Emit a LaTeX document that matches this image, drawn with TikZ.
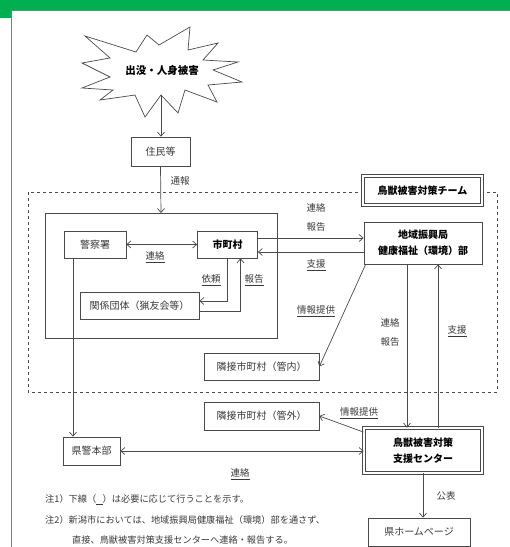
\documentclass[tikz,border=0pt]{standalone}
\usepackage{fontspec}
\setmainfont{Noto Sans CJK JP}
\usetikzlibrary{arrows.meta,calc}
\definecolor{band}{HTML}{00B050}
\definecolor{ln}{HTML}{4A4A4A}
\definecolor{tx}{HTML}{3A3A3A}
\tikzset{
  box/.style={draw=ln, line width=0.7pt, fill=white, text=tx, font=\fontsize{10}{12}\selectfont, inner sep=1pt, align=center},
  bbox/.style={box, text=black, font=\fontsize{10}{16}\selectfont\bfseries},
  dbox/.style={bbox, double=white, double distance=1.6pt, line width=0.8pt},
  lab/.style={text=tx, font=\fontsize{9.5}{11}\selectfont, inner sep=1pt},
  conn/.style={draw=ln, line width=0.7pt},
  arr/.style={conn, -{Straight Barb[length=4pt,width=7pt]}},
  darr/.style={conn, {Straight Barb[length=4pt,width=7pt]}-{Straight Barb[length=4pt,width=7pt]}},
  note/.style={text=tx, font=\fontsize{9.2}{11}\selectfont, inner sep=0pt, anchor=west}
}
\begin{document}
\begin{tikzpicture}[x=1pt,y=-1pt]
\useasboundingbox (0,0) rectangle (510,547);
% header band and frame
\fill[band] (0,0) rectangle (510,10);
\fill[band] (0,0) rectangle (11,18);
\draw[gray, line width=1pt] (510,10.5) -- (11,10.5) -- (11,547);
% star
\draw[ln, line width=0.7pt, fill=white] (85,36) -- (136,52) -- (147,35) -- (159,45) -- (190,27) -- (188,50) -- (218,43) -- (203,60) -- (238,62) -- (213,70) -- (242,82) -- (208,85) -- (217,102) -- (185,90) -- (178,113) -- (161,95) -- (145,117) -- (135,95) -- (100,100) -- (113,90) -- (82,88) -- (110,77) -- (82,63) -- (110,58) -- cycle;
\node[font=\fontsize{10.5}{12}\selectfont\bfseries, inner sep=0pt] (star) at (162,70) {出没・人身被害};
\coordinate (starbot) at (161,95);
% dashed team area
\draw[ln, dashed, line width=0.6pt] (28,192) rectangle (497,392);
\node[dbox, minimum width=119pt, minimum height=29pt] (team) at (422.5,190.5) {鳥獣被害対策チーム};
% inner municipal box
\draw[ln, line width=0.7pt] (45,213) rectangle (277,338);
\coordinate (innertop) at (161,213);
% nodes
\node[box, minimum width=59pt, minimum height=29pt] (jumin) at (160.5,151.5) {住民等};
\node[box, minimum width=62pt, minimum height=27pt] (keisatsu) at (95,244.5) {警察署};
\node[bbox, minimum width=60pt, minimum height=27pt] (mcv) at (227.5,244.5) {市町村};
\node[box, minimum width=119pt, minimum height=27pt] (kankei) at (139.5,305.5) {関係団体（猟友会等）};
\node[bbox, minimum width=118pt, minimum height=42pt] (chiiki) at (423,243) {地域振興局\\健康福祉（環境）部};
\node[box, minimum width=115pt, minimum height=27pt] (kannai) at (261.5,366.5) {隣接市町村（管内）};
\node[box, minimum width=115pt, minimum height=28pt] (kangai) at (261.5,416) {隣接市町村（管外）};
\node[box, minimum width=57pt, minimum height=28pt] (kenkei) at (91.5,451) {県警本部};
\node[dbox, minimum width=118pt, minimum height=45pt] (center) at (423,450.5) {鳥獣被害対策\\支援センター};
\node[box, minimum width=102pt, minimum height=28pt] (hp) at (419,532) {県ホームページ};
% connectors
\draw[arr] (starbot) -- (starbot |- jumin.north);
\draw[arr] (jumin.south) -- (innertop);
\draw[darr] (keisatsu.east) -- (mcv.west);
\draw[arr] ([yshift=6.5pt]mcv.east) -- ([yshift=6.5pt]mcv.east -| chiiki.west);
\draw[arr] ([yshift=-7.5pt]mcv.east -| chiiki.west) -- ([yshift=-7.5pt]mcv.east);
\draw[arr] (mcv.south) |- ([yshift=4.5pt]kankei.east);
\draw[arr] ([yshift=-5.5pt]kankei.east) -| ([xshift=13pt]mcv.south);
\draw[arr] ([xshift=-22pt]keisatsu.south) -- ([xshift=-22pt]keisatsu.south |- kenkei.north);
\draw[arr] ([xshift=2pt]chiiki.south west) -- (kannai.east);
\draw[arr] ([xshift=-16pt]chiiki.south) -- ([xshift=-16pt]chiiki.south |- center.north);
\draw[arr] ([xshift=15pt]center.north) -- ([xshift=15pt]center.north |- chiiki.south);
\draw[arr] ([yshift=-4.5pt]center.north west) -- (kangai.east);
\draw[darr] (kenkei.east) -- (kenkei.east -| center.west);
\draw[arr] (center.south) -- (center.south |- hp.north);
% labels
\node[lab] (l1) at (180,181) {通報};
\node[lab] (l2) at (155,257) {\underline{連絡}};
\node[lab] (l3) at (316,208) {連絡};
\node[lab] (l4) at (316,227) {報告};
\node[lab] (l5) at (316,265) {\underline{支援}};
\node[lab] (l6) at (211,280) {\underline{依頼}};
\node[lab] (l7) at (254,280) {\underline{報告}};
\node[lab] (l8) at (316,311) {\underline{情報提供}};
\node[lab] (l9) at (390,323) {連絡};
\node[lab] (l10) at (390,342) {報告};
\node[lab] (l11) at (457,331) {\underline{支援}};
\node[lab] (l12) at (359,413) {\underline{情報提供}};
\node[lab] (l13) at (240,474) {\underline{連絡}};
\node[lab] (l14) at (446,496) {公表};
% notes
\node[note] (n1) at (45,500) {注1）下線（\underline{\hspace{0.7em}}）は必要に応じて行うことを示す。};
\node[note] (n2) at (45,520) {注2）新潟市においては、地域振興局健康福祉（環境）部を通さず、};
\node[note] (n3) at (72,540) {直接、鳥獣被害対策支援センターへ連絡・報告する。};
\end{tikzpicture}
\end{document}
